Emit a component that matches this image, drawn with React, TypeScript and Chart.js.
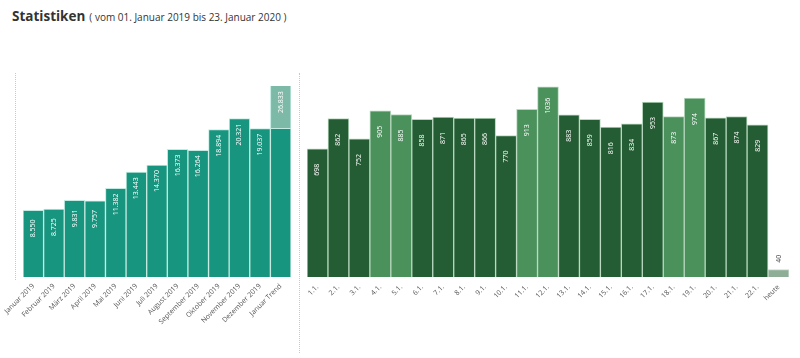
import React, { useEffect, useRef } from "react";
import { Chart, registerables } from "chart.js";

Chart.register(...registerables);

const monthLabels = [
  "Januar 2019", "Februar 2019", "März 2019", "April 2019", "Mai 2019", "Juni 2019",
  "Juli 2019", "August 2019", "September 2019", "Oktober 2019", "November 2019",
  "Dezember 2019", "Januar Trend",
];
const monthValues = [8550, 8725, 9831, 9757, 11382, 13443, 14370, 16373, 16264, 18894, 20321, 19037, 19083];
const trendExtra = [null, null, null, null, null, null, null, null, null, null, null, null, 7750];
const trendTotal = 26833;

const dayLabels = [
  "1.1.", "2.1.", "3.1.", "4.1.", "5.1.", "6.1.", "7.1.", "8.1.", "9.1.", "10.1.", "11.1.",
  "12.1.", "13.1.", "14.1.", "15.1.", "16.1.", "17.1.", "18.1.", "19.1.", "20.1.", "21.1.",
  "22.1.", "heute",
];
const dayValues = [698, 862, 752, 905, 885, 858, 871, 865, 866, 770, 913, 1036, 883, 859, 816, 834, 953, 873, 974, 867, 874, 829, 40];
const weekendDays = ["4.1.", "5.1.", "11.1.", "12.1.", "18.1.", "19.1."];

const fmt = (v: number) => String(v).replace(/\B(?=(\d{3})+(?!\d))/g, ".");

const valueLabelPlugin = {
  id: "valueLabels",
  afterDatasetsDraw(chart: any, _args: any, opts: any) {
    const ctx = chart.ctx;
    const area = chart.chartArea;
    chart.data.datasets.forEach((_ds: any, di: number) => {
      const meta = chart.getDatasetMeta(di);
      meta.data.forEach((el: any, i: number) => {
        const text = opts.getText ? opts.getText(di, i) : null;
        if (!text) return;
        const top = Math.max(Math.min(el.y, el.base), area.top);
        const h = el.base - top;
        ctx.save();
        ctx.font = '7px "Open Sans"';
        ctx.textBaseline = "middle";
        ctx.textAlign = "left";
        if (h > 32) {
          ctx.fillStyle = "#ffffff";
          ctx.translate(el.x, top + 27);
        } else {
          ctx.fillStyle = "#444444";
          ctx.translate(el.x, top - 7);
        }
        ctx.rotate(-Math.PI / 2);
        ctx.fillText(text, 0, 0);
        ctx.restore();
      });
    });
  },
};

const tickFont = { family: '"Open Sans"', size: 7 };

function MonthChart() {
  const ref = useRef<HTMLCanvasElement>(null);
  useEffect(() => {
    const chart = new Chart(ref.current!, {
      type: "bar",
      data: {
        labels: monthLabels,
        datasets: [
          {
            data: monthValues,
            backgroundColor: "#17957f",
            borderColor: "#c4ebe2",
            borderWidth: 1,
            borderSkipped: "bottom",
            barPercentage: 1,
            categoryPercentage: 1,
            stack: "s",
          },
          {
            data: trendExtra as any,
            backgroundColor: "#7cbaa7",
            borderColor: "#c4ebe2",
            borderWidth: 1,
            borderSkipped: "bottom",
            barPercentage: 1,
            categoryPercentage: 1,
            stack: "s",
          },
        ],
      },
      options: {
        animation: false,
        responsive: false,
        maintainAspectRatio: false,
        layout: { padding: { left: 20, right: 5, top: 86, bottom: 0 } },
        plugins: {
          legend: { display: false },
          tooltip: { enabled: false },
          valueLabels: {
            getText: (di: number, i: number) => {
              const last = monthLabels.length - 1;
              if (di === 0) return i === last ? null : fmt(monthValues[i]);
              return i === last ? fmt(trendTotal) : null;
            },
          },
        } as any,
        scales: {
          x: {
            stacked: true,
            grid: { display: false, drawTicks: false },
            border: { display: false },
            ticks: { minRotation: 45, maxRotation: 45, font: tickFont, color: "#555", padding: 5, autoSkip: false },
            afterFit: (s: any) => { s.height = 81; },
          },
          y: { stacked: true, display: false, min: 0, max: 24500 },
        },
      },
      plugins: [valueLabelPlugin],
    });
    return () => chart.destroy();
  }, []);
  return <canvas ref={ref} width={296} height={358} style={{ position: "absolute", left: 0, top: 0, width: 296, height: 358 }} />;
}

function DayChart() {
  const ref = useRef<HTMLCanvasElement>(null);
  useEffect(() => {
    const bg = dayLabels.map((l) => (l === "heute" ? "#8fae96" : weekendDays.includes(l) ? "#4a915c" : "#245c33"));
    const bc = dayLabels.map((l) => (l === "heute" ? "#c9dccd" : "#b8d8bf"));
    const chart = new Chart(ref.current!, {
      type: "bar",
      data: {
        labels: dayLabels,
        datasets: [
          {
            data: dayValues,
            backgroundColor: bg,
            borderColor: bc,
            borderWidth: 1,
            borderSkipped: "bottom",
            barPercentage: 1,
            categoryPercentage: 1,
          },
        ],
      },
      options: {
        animation: false,
        responsive: false,
        maintainAspectRatio: false,
        layout: { padding: { left: 7, right: 11, top: 86, bottom: 0 } },
        plugins: {
          legend: { display: false },
          tooltip: { enabled: false },
          valueLabels: { getText: (_di: number, i: number) => String(dayValues[i]) },
        } as any,
        scales: {
          x: {
            grid: { display: false, drawTicks: false },
            border: { display: false },
            ticks: { minRotation: 45, maxRotation: 45, font: tickFont, color: "#555", padding: 6, autoSkip: false },
            afterFit: (s: any) => { s.height = 81; },
          },
          y: { display: false, min: 0, max: 1040 },
        },
      },
      plugins: [valueLabelPlugin],
    });
    return () => chart.destroy();
  }, []);
  return <canvas ref={ref} width={500} height={358} style={{ position: "absolute", left: 300, top: 0, width: 500, height: 358 }} />;
}

export default function App() {
  return (
    <div style={{ position: "fixed", left: 0, top: 0, width: 800, height: 358, background: "#fff", overflow: "hidden", fontFamily: '"Open Sans", sans-serif' }}>
      <div style={{ position: "absolute", left: 12, top: 4, color: "#333", whiteSpace: "nowrap" }}>
        <span style={{ fontWeight: 700, fontSize: 13.5 }}>Statistiken</span>
        <span style={{ fontSize: 10, marginLeft: 4 }}>( vom 01. Januar 2019 bis 23. Januar 2020 )</span>
      </div>
      <div style={{ position: "absolute", left: 15, top: 73, height: 207, borderLeft: "1px dotted #c8c8c8" }} />
      <div style={{ position: "absolute", left: 299, top: 73, height: 280, borderLeft: "1px dotted #c8c8c8" }} />
      <MonthChart />
      <DayChart />
    </div>
  );
}
